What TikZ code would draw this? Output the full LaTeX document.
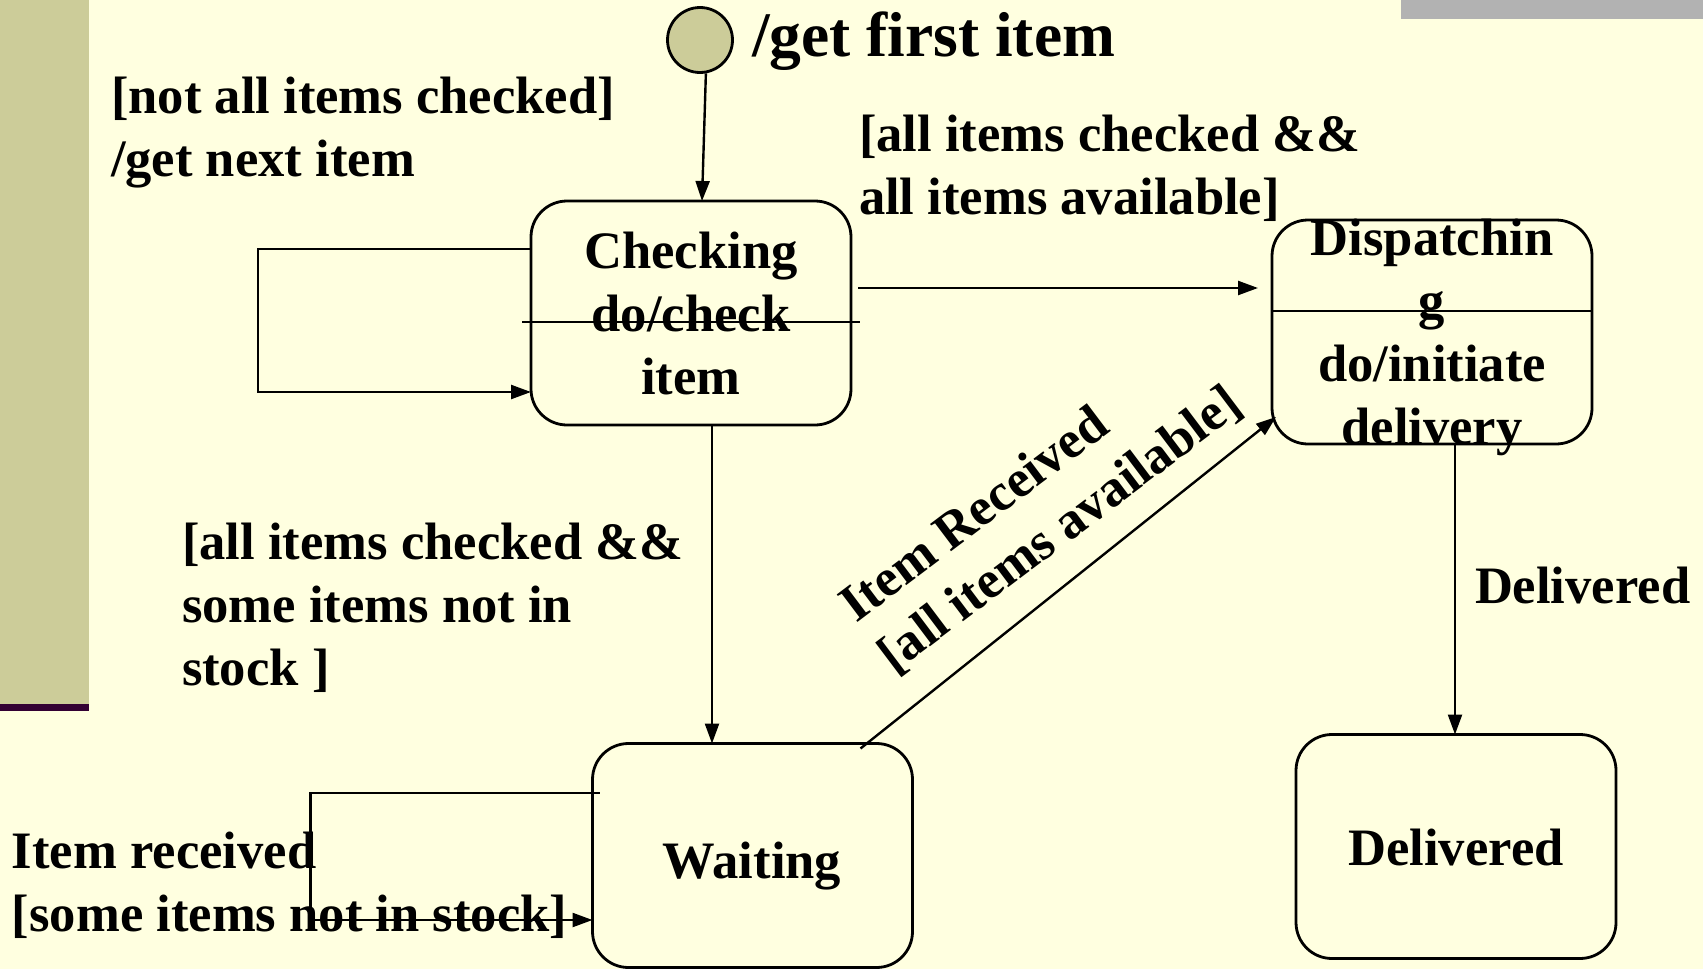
\documentclass[tikz,border=0pt]{standalone}
\usepackage{fontspec}
\setmainfont{Liberation Serif}
\usetikzlibrary{arrows.meta,calc}

\definecolor{paper}{HTML}{FFFFE0}
\definecolor{sageband}{HTML}{CCCC99}
\definecolor{bandedge}{HTML}{330033}
\definecolor{bargray}{HTML}{B2B2B2}

\begin{document}
\begin{tikzpicture}[x=1pt,y=-1pt,
  lbl/.style={font=\bfseries\fontsize{52.6pt}{63pt}\selectfont, inner sep=0pt, outer sep=0pt},
  bigtitle/.style={font=\bfseries\fontsize{63.5pt}{76pt}\selectfont, inner sep=0pt, outer sep=0pt},
  state/.style={draw, line width=2.8pt, rounded corners=36pt, minimum width=320pt,
    minimum height=224pt, inner sep=0pt, outer sep=0pt},
  wire/.style={line width=2.4pt},
  arr/.style={wire, -{Triangle[length=20pt,width=14pt]}},
]
% page, side band and top bar
\useasboundingbox (0,0) rectangle (1703,969);
\fill[paper] (0,0) rectangle (1703,969);
\fill[sageband] (0,0) rectangle (89,704);
\fill[bandedge] (0,704) rectangle (89,711);
\fill[bargray] (1401,0) rectangle (1703,19);

% states
\node[circle, draw, line width=2.8pt, fill=sageband, minimum size=65pt, inner sep=0pt] (init) at (700,40) {};
\node[state] (checking) at (691,313) {};
\node[state] (dispatch) at (1432,332) {};
\node[state] (waiting) at (752.5,855.5) {};
\node[state] (delivered) at (1456,846.5) {};

% state texts (multi-line nodes are anchored at the baseline of their last line)
\node[lbl, anchor=base, align=center] (checkingtext) at (691,394) {Checking\\do/check\\item};
\node[lbl, anchor=base, align=center] (dispatchtext) at (1432,444) {Dispatchin\\g\\do/initiate\\delivery};
\node[lbl, anchor=base] (waitingtext) at (752,878) {Waiting};
\node[lbl, anchor=base] (deliveredtext) at (1456,865) {Delivered};

% compartment lines
\draw[wire] ($(checking.west)+(-9,9)$) -- ($(checking.east)+(9,9)$);
\draw[wire] ($(dispatch.west)+(0,-21)$) -- ($(dispatch.east)+(0,-21)$);

% transitions
\draw[arr] (init.-80) -- ($(checking.north)+(11,0)$);
\draw[arr] ($(checking.west)+(0,-64)$) -- ++(-273,0) |- ($(checking.west)+(0,79)$);
\draw[arr] ($(checking.east)+(7,-25)$) -- ($(dispatch.west)+(-14,-44)$);
\draw[arr] ($(checking.south)+(21,0)$) -- ($(waiting.north)+(-40.5,0)$);
\draw[arr] ($(waiting.west)+(7,-62.5)$) -- ++(-289,0) |- ($(waiting.west)+(0,64.5)$);
\draw[arr] ($(waiting.north east)+(-52,5)$) -- ($(dispatch.south west)+(4,-27)$);
\draw[arr] ($(dispatch.south)+(23,0)$) -- ($(delivered.north)+(-1,0)$);

% transition labels
\node[bigtitle, anchor=base west] (firstlbl) at (752,56) {/get first item};
\node[lbl, anchor=base west, align=left] (nextlbl) at (111,176) {[not all items checked]\\/get next item};
\node[lbl, anchor=base west, align=left] (alllbl) at (859,214) {[all items checked \&\&\\all items available]};
\node[lbl, anchor=base west, align=left] (somelbl) at (182,685) {[all items checked \&\&\\some items not in\\stock ]};
\node[lbl, anchor=base west] (donelbl) at (1475,603) {Delivered};
\node[lbl, anchor=base west, align=left] (recvlbl) at (12,931) {Item received\\{[}some items not in stock{]}};
\node[lbl, anchor=base west, align=left, rotate=37] (availlbl) at (894,674) {Item Received\\{[}all items available{]}};
\end{tikzpicture}
\end{document}
